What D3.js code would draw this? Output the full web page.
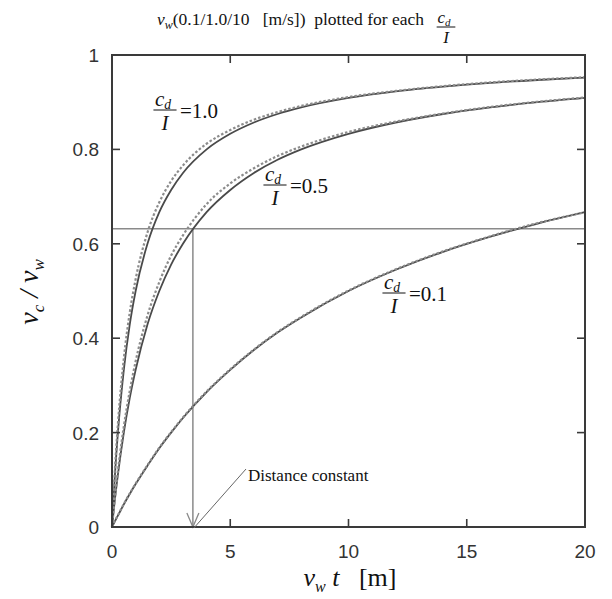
<!DOCTYPE html>
<html><head><meta charset="utf-8">
<script src="https://cdn.jsdelivr.net/npm/d3@7"></script>
<style>body{margin:0;background:#fff} .serif{font-family:"Liberation Serif","Times New Roman",Times,serif} .sans{font-family:"Liberation Sans",Arial,Helvetica,sans-serif}</style>
</head><body>
<svg id="chart" width="612" height="599"></svg>
<script>
const xs       = [0, 0.1, 0.25, 0.5, 0.75, 1, 1.5, 2, 2.5, 3, 4, 5, 6, 7, 8, 10, 12, 14, 16, 18, 20];
const solid10  = [0, 0.091, 0.200, 0.333, 0.429, 0.500, 0.600, 0.667, 0.714, 0.750, 0.800, 0.833, 0.857, 0.875, 0.889, 0.909, 0.923, 0.933, 0.941, 0.947, 0.952];
const dashed10 = [0, 0.101, 0.218, 0.357, 0.454, 0.525, 0.624, 0.688, 0.733, 0.766, 0.812, 0.841, 0.863, 0.879, 0.892, 0.911, 0.924, 0.934, 0.942, 0.948, 0.953];
const solid05  = [0, 0.048, 0.111, 0.200, 0.273, 0.333, 0.429, 0.500, 0.556, 0.600, 0.667, 0.714, 0.750, 0.778, 0.800, 0.833, 0.857, 0.875, 0.889, 0.900, 0.909];
const dashed05 = [0, 0.051, 0.119, 0.213, 0.288, 0.351, 0.448, 0.519, 0.575, 0.618, 0.684, 0.728, 0.760, 0.786, 0.806, 0.837, 0.859, 0.876, 0.890, 0.901, 0.910];
const solid01  = [0, 0.010, 0.024, 0.048, 0.070, 0.091, 0.130, 0.167, 0.200, 0.231, 0.286, 0.333, 0.375, 0.412, 0.444, 0.500, 0.545, 0.583, 0.615, 0.643, 0.667];
const dashed01 = [0, 0.011, 0.025, 0.049, 0.071, 0.092, 0.131, 0.168, 0.201, 0.232, 0.287, 0.334, 0.376, 0.413, 0.445, 0.501, 0.546, 0.584, 0.616, 0.644, 0.667];
const xTicks = [0, 5, 10, 15, 20];
const yTicks = [0, 0.2, 0.4, 0.6, 0.8, 1];
const yTickLabels = ["0", "0.2", "0.4", "0.6", "0.8", "1"];
const distConst = 3.42;
const level = 0.632;

const svg = d3.select("#chart");
const L = 112, R = 585, T = 55, B = 527;
const x = d3.scaleLinear().domain([0, 20]).range([L, R]);
const y = d3.scaleLinear().domain([0, 1]).range([B, T]);

// reference lines
svg.append("line").attr("x1", L).attr("x2", R).attr("y1", y(level)).attr("y2", y(level))
  .attr("stroke", "#8a8a8a").attr("stroke-width", 1.5);
svg.append("line").attr("x1", x(distConst)).attr("x2", x(distConst)).attr("y1", y(level)).attr("y2", y(0))
  .attr("stroke", "#8a8a8a").attr("stroke-width", 1.5);
svg.append("path")
  .attr("d", `M${x(distConst)-6},${y(0)-14} L${x(distConst)},${y(0)} L${x(distConst)+6},${y(0)-14}`)
  .attr("fill", "none").attr("stroke", "#8a8a8a").attr("stroke-width", 1.3);

// curves
const line = d3.line().x(d => x(d[0])).y(d => y(d[1])).curve(d3.curveMonotoneX);
const series = [[solid10, dashed10], [solid05, dashed05], [solid01, dashed01]];
series.forEach(([s, dsh]) => {
  svg.append("path").attr("d", line(xs.map((v, i) => [v, s[i]])))
    .attr("fill", "none").attr("stroke", "#4a4a4a").attr("stroke-width", 1.8);
  svg.append("path").attr("d", line(xs.map((v, i) => [v, dsh[i]])))
    .attr("fill", "none").attr("stroke", "#8c8c8c").attr("stroke-width", 2.2)
    .attr("stroke-dasharray", "2.5,2");
});

// frame
svg.append("rect").attr("x", L).attr("y", T).attr("width", R - L).attr("height", B - T)
  .attr("fill", "none").attr("stroke", "#3a3a3a").attr("stroke-width", 2);

// ticks (inward, all sides)
const tl = 8;
xTicks.slice(1, -1).forEach(t => {
  svg.append("line").attr("x1", x(t)).attr("x2", x(t)).attr("y1", B).attr("y2", B - tl).attr("stroke", "#3a3a3a").attr("stroke-width", 1.6);
  svg.append("line").attr("x1", x(t)).attr("x2", x(t)).attr("y1", T).attr("y2", T + tl).attr("stroke", "#3a3a3a").attr("stroke-width", 1.6);
});
yTicks.slice(1, -1).forEach(t => {
  svg.append("line").attr("x1", L).attr("x2", L + tl).attr("y1", y(t)).attr("y2", y(t)).attr("stroke", "#3a3a3a").attr("stroke-width", 1.6);
  svg.append("line").attr("x1", R).attr("x2", R - tl).attr("y1", y(t)).attr("y2", y(t)).attr("stroke", "#3a3a3a").attr("stroke-width", 1.6);
});
xTicks.forEach(t => {
  svg.append("text").attr("class", "sans").attr("x", x(t)).attr("y", 558).attr("text-anchor", "middle")
    .attr("font-size", 19).attr("fill", "#333").text(t);
});
yTicks.forEach((t, i) => {
  svg.append("text").attr("class", "sans").attr("x", 99).attr("y", y(t) + 7).attr("text-anchor", "end")
    .attr("font-size", 19).attr("fill", "#333").text(yTickLabels[i]);
});

// fraction helper c_d / I
function frac(cx, barY, size) {
  const g = svg.append("g").attr("class", "serif").attr("fill", "#111");
  const t1 = g.append("text").attr("x", cx - 2).attr("y", barY - 4).attr("text-anchor", "middle").attr("font-size", size);
  t1.append("tspan").attr("font-style", "italic").text("c");
  t1.append("tspan").attr("font-style", "italic").attr("font-size", size * 0.65).attr("dy", size * 0.15).text("d");
  g.append("line").attr("x1", cx - size * 0.55).attr("x2", cx + size * 0.55).attr("y1", barY).attr("y2", barY)
    .attr("stroke", "#111").attr("stroke-width", 1);
  g.append("text").attr("x", cx).attr("y", barY + size * 0.95).attr("text-anchor", "middle")
    .attr("font-size", size).attr("font-style", "italic").text("I");
}
function label(cx, barY, val) {
  frac(cx, barY, 21);
  svg.append("text").attr("class", "serif").attr("x", cx + 15).attr("y", barY + 8)
    .attr("font-size", 21).attr("fill", "#111").text("=" + val);
}
label(165, 110, "1.0");
label(275, 185, "0.5");
label(394, 293, "0.1");

// distance constant annotation
svg.append("line").attr("x1", 246).attr("y1", 469).attr("x2", x(distConst) + 1).attr("y2", B + 1)
  .attr("stroke", "#666").attr("stroke-width", 1);
svg.append("text").attr("class", "serif").attr("x", 248).attr("y", 481).attr("font-size", 17)
  .attr("fill", "#111").text("Distance constant");

// title
const tt = svg.append("text").attr("class", "serif").attr("x", 157).attr("y", 25).attr("font-size", 17.5).attr("fill", "#111");
tt.append("tspan").attr("font-style", "italic").text("v");
tt.append("tspan").attr("font-style", "italic").attr("font-size", 12).attr("dy", 4).text("w");
tt.append("tspan").attr("dy", -4).text("(0.1/1.0/10\u00a0\u00a0\u00a0[m/s])\u00a0\u00a0plotted for each");
frac(446, 27, 17);

// x axis title
const xt = svg.append("text").attr("class", "serif").attr("x", 350).attr("y", 586).attr("text-anchor", "middle")
  .attr("font-size", 26).attr("fill", "#111");
xt.append("tspan").attr("font-style", "italic").text("v");
xt.append("tspan").attr("font-style", "italic").attr("font-size", 16).attr("dy", 6).text("w");
xt.append("tspan").attr("font-style", "italic").attr("dy", -6).text(" t");
xt.append("tspan").text("\u00a0\u00a0\u00a0[m]");

// y axis title
const yt = svg.append("text").attr("class", "serif").attr("transform", "translate(38,292) rotate(-90)").attr("text-anchor", "middle")
  .attr("font-size", 28).attr("fill", "#111").attr("font-style", "italic");
yt.append("tspan").text("v");
yt.append("tspan").attr("font-size", 17).attr("dy", 6).text("c");
yt.append("tspan").attr("dy", -6).text(" / v");
yt.append("tspan").attr("font-size", 17).attr("dy", 6).text("w");
</script>
</body></html>
